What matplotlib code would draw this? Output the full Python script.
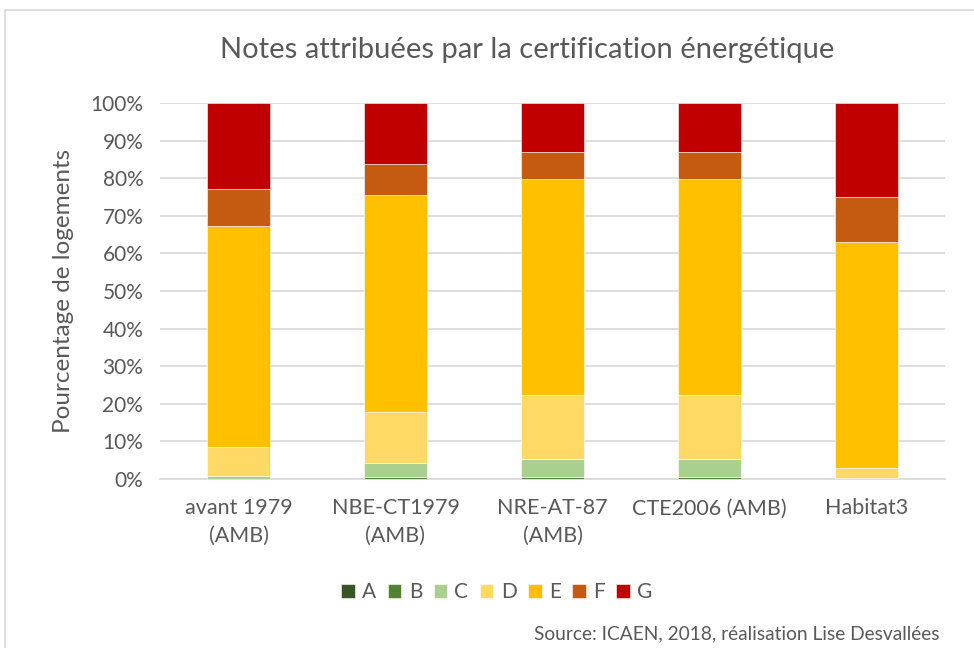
import matplotlib
matplotlib.use("Agg")
import matplotlib.pyplot as plt
import numpy as np
from matplotlib.patches import Rectangle
from matplotlib.ticker import PercentFormatter

plt.rcParams['font.family'] = ['Lato', 'DejaVu Sans']

categories = ["avant 1979\n(AMB)", "NBE-CT1979\n(AMB)", "NRE-AT-87\n(AMB)", "CTE2006 (AMB)", "Habitat3"]
grades = ["A", "B", "C", "D", "E", "F", "G"]
A = [0.0, 0.1, 0.1, 0.1, 0.0]
B = [0.1, 0.3, 0.3, 0.3, 0.0]
C = [0.8, 3.8, 4.8, 4.8, 0.2]
D = [7.7, 13.7, 17.2, 17.2, 2.8]
E = [58.7, 57.7, 57.5, 57.5, 60.1]
F = [9.8, 8.2, 7.1, 7.1, 11.9]
G = [22.9, 16.2, 13.0, 13.0, 25.0]
series = [A, B, C, D, E, F, G]
colors = ["#375623", "#548235", "#A9D08E", "#FFD966", "#FFC000", "#C55A11", "#C00000"]

txt = "#595959"
fig = plt.figure(figsize=(9.74, 6.48), dpi=100)
fig.patches.append(Rectangle((5/974, -0.01), 1.0, (648-10)/648 + 0.01, transform=fig.transFigure,
                             fill=False, edgecolor="#D9D9D9", linewidth=1.2))
ax = fig.add_axes([160/974, (648-479)/648, 785/974, 376/648])

x = np.arange(len(categories))
bottom = np.zeros(len(categories))
for g, vals, c in zip(grades, series, colors):
    v = np.array(vals) / 100.0
    ax.bar(x, v, 0.4, bottom=bottom, color=c, label=g, edgecolor="white", linewidth=0.4, zorder=3)
    bottom += v

ax.set_xlim(-0.5, len(categories) - 0.5)
ax.set_ylim(0, 1)
ax.set_yticks(np.arange(0, 1.01, 0.1))
ax.yaxis.set_major_formatter(PercentFormatter(1.0, decimals=0))
ax.set_xticks(x)
ax.set_xticklabels(categories, linespacing=1.45)
ax.tick_params(axis="both", length=0, colors=txt)
ax.tick_params(axis="x", pad=14, labelsize=15.5)
ax.tick_params(axis="y", pad=12, labelsize=15)
ax.grid(axis="y", color="#D9D9D9", linewidth=1.2, zorder=0)
for s in ["top", "right", "left"]:
    ax.spines[s].set_visible(False)
ax.spines["bottom"].set_color("#D9D9D9")
ax.spines["bottom"].set_linewidth(1.2)

ax.set_ylabel("Pourcentage de logements", fontsize=17.5, color=txt, labelpad=12)

fig.text(527/974, 1 - 50/648, "Notes attribuées par la certification énergétique",
         ha="center", va="center", fontsize=21, color=txt)

leg = fig.legend(loc="center", bbox_to_anchor=(497/974, 1 - 592/648), ncol=7, frameon=False,
                 fontsize=15, handlelength=0.65, handleheight=0.65, handletextpad=0.35, columnspacing=0.55)
for t in leg.get_texts():
    t.set_color(txt)

fig.text(940/974, 1 - 634/648, "Source: ICAEN, 2018, réalisation Lise Desvallées",
         ha="right", va="center", fontsize=13.8, color=txt)

fig.savefig("out.png", dpi=100)
